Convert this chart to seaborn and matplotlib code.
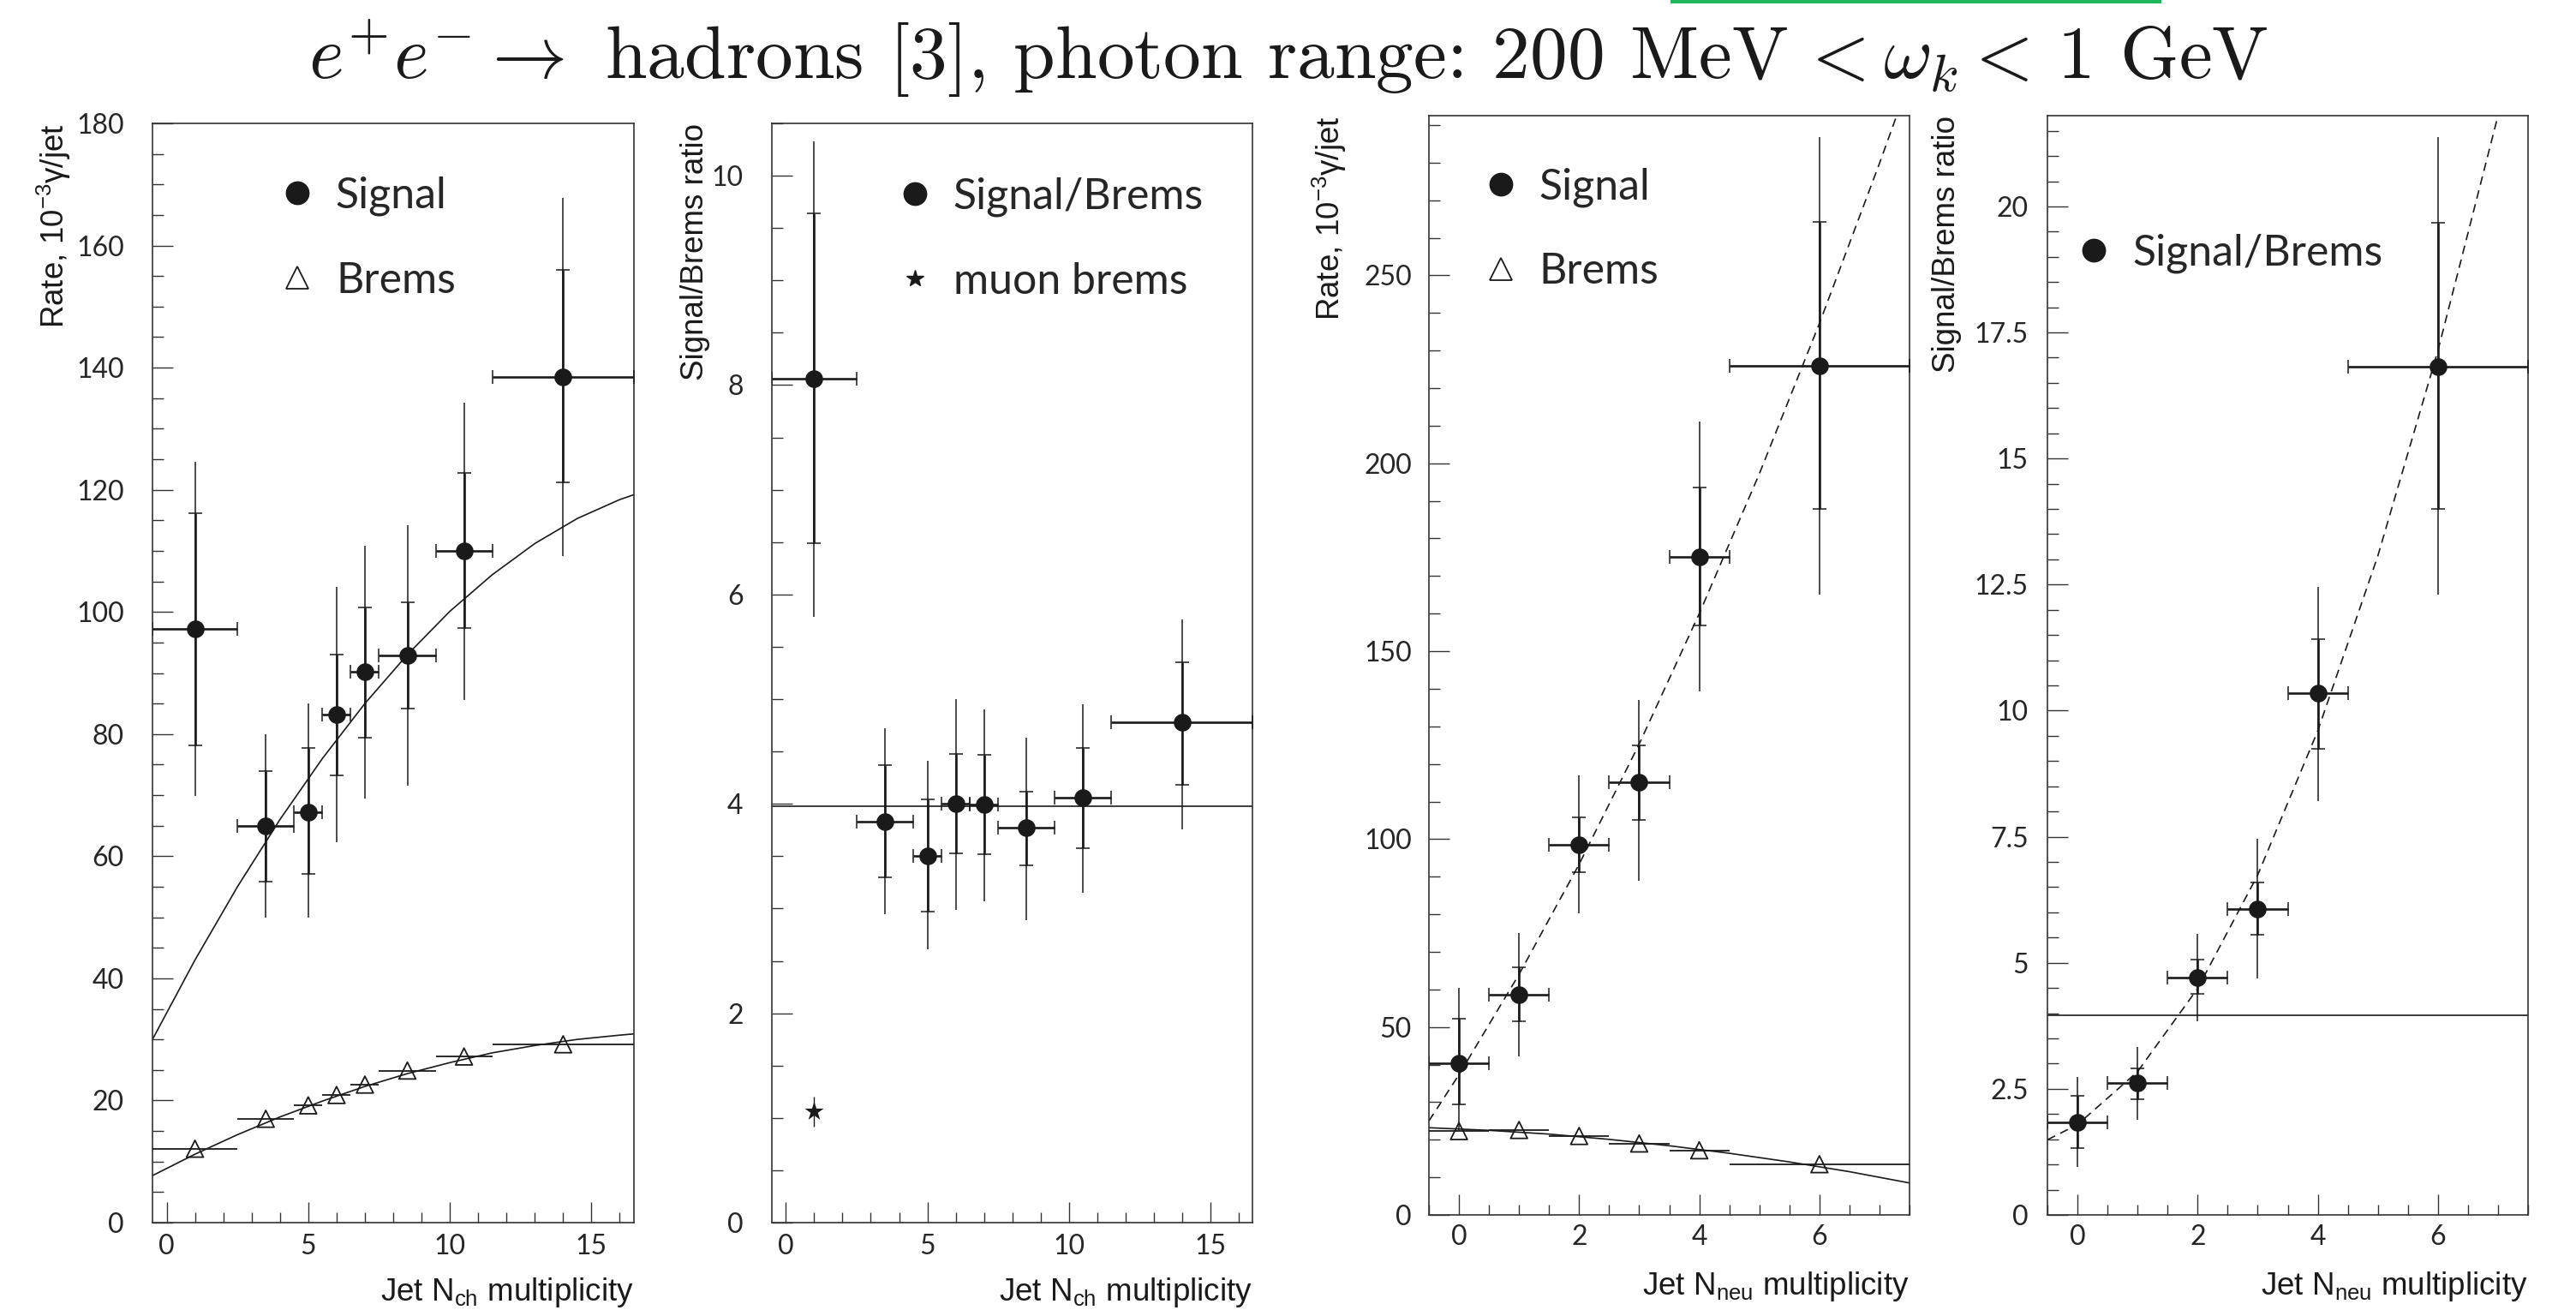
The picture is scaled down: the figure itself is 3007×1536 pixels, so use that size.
import matplotlib
matplotlib.use("Agg")
import matplotlib.pyplot as plt
import numpy as np
import pandas as pd
import seaborn as sns
from matplotlib.lines import Line2D
from matplotlib.patches import Rectangle
from matplotlib.ticker import MultipleLocator, FormatStrFormatter

# ---- data: charged multiplicity (panels 1, 2)
nch = [1, 3.5, 5, 6, 7, 8.5, 10.5, 14]
nch_xerr = [1.5, 1, 0.5, 0.5, 0.5, 1, 1, 2.5]

sig_nch = [97.2, 64.9, 67.2, 83.2, 90.2, 92.9, 110.0, 138.5]
sig_nch_in_hi = [116.1, 74.0, 77.7, 93.0, 100.8, 101.6, 122.8, 156.0]
sig_nch_in_lo = [78.2, 55.9, 57.1, 73.3, 79.4, 84.2, 97.4, 121.2]
sig_nch_out_hi = [124.6, 79.9, 85.0, 104.1, 110.9, 114.2, 134.3, 167.8]
sig_nch_out_lo = [69.9, 49.9, 50.0, 62.3, 69.4, 71.5, 85.6, 109.2]
brems_nch = [12.1, 17.0, 19.2, 20.9, 22.6, 24.9, 27.2, 29.2]

fit_nch_x = [-0.5, 1, 2.5, 4, 5.5, 7, 8.5, 10, 11.5, 13, 14.5, 16, 16.5]
fit_nch_sig = [30.0, 43.0, 55.0, 66.0, 76.0, 85.0, 93.0, 100.1, 106.1, 111.2, 115.3, 118.4, 119.2]
fit_nch_brems = [7.7, 11.2, 14.4, 17.3, 19.9, 22.3, 24.4, 26.2, 27.8, 29.0, 30.0, 30.7, 30.9]

ratio_nch = [8.06, 3.83, 3.50, 4.00, 3.99, 3.77, 4.06, 4.78]
ratio_nch_in_hi = [9.64, 4.37, 4.04, 4.48, 4.47, 4.12, 4.53, 5.35]
ratio_nch_in_lo = [6.49, 3.30, 2.97, 3.53, 3.52, 3.41, 3.58, 4.18]
ratio_nch_out_hi = [10.33, 4.72, 4.41, 5.00, 4.90, 4.63, 4.95, 5.76]
ratio_nch_out_lo = [5.79, 2.95, 2.61, 2.99, 3.07, 2.89, 3.15, 3.76]
ratio_nch_const = 3.98
muon_x = [1]
muon_y = [1.06]
muon_err = [0.14]

# ---- data: neutral multiplicity (panels 3, 4)
nneu = [0, 1, 2, 3, 4, 6]
nneu_xerr = [0.5, 0.5, 0.5, 0.5, 0.5, 1.5]

sig_neu = [40.4, 58.5, 98.4, 115.1, 175.2, 226.0]
sig_neu_in_hi = [52.3, 65.8, 105.7, 125.0, 193.5, 264.2]
sig_neu_in_lo = [29.4, 51.5, 91.1, 105.2, 156.8, 187.8]
sig_neu_out_hi = [60.4, 75.0, 117.0, 137.0, 211.2, 286.9]
sig_neu_out_lo = [22.5, 42.2, 80.2, 88.8, 139.3, 165.0]
brems_neu = [22.3, 22.6, 21.0, 19.0, 17.2, 13.5]

fit_neu_x = [-0.5, 0, 1, 2, 3, 4, 5, 6, 7, 7.5]
fit_neu_sig = [25.0, 37.3, 64.0, 93.3, 125.3, 160.0, 197.2, 237.2, 279.8, 302.0]
fit_neu_brems_x = [-0.5, 0.5, 1.5, 2.5, 3.5, 4.5, 5.5, 6.5, 7.5]
fit_neu_brems = [23.2, 22.5, 21.5, 20.1, 18.4, 16.4, 14.1, 11.5, 8.5]

ratio_neu = [1.84, 2.61, 4.71, 6.07, 10.35, 16.83]
ratio_neu_in_hi = [2.36, 2.91, 5.06, 6.60, 11.42, 19.68]
ratio_neu_in_lo = [1.33, 2.29, 4.38, 5.56, 9.25, 14.00]
ratio_neu_out_hi = [2.73, 3.33, 5.58, 7.46, 12.46, 21.37]
ratio_neu_out_lo = [0.95, 1.88, 3.84, 4.69, 8.20, 12.30]
ratio_neu_const = 3.96
fit_ratio_neu = [1.49, 1.79, 2.84, 4.49, 6.74, 9.6, 13.07, 17.14, 21.8, 24.4]

# ---- style
sns.set_theme(style="ticks")
plt.rcParams["font.family"] = ["Liberation Sans", "DejaVu Sans"]
plt.rcParams["mathtext.fontset"] = "custom"
plt.rcParams["mathtext.rm"] = "Liberation Sans"
plt.rcParams["mathtext.it"] = "Liberation Sans:italic"
plt.rcParams["mathtext.sf"] = "Liberation Sans"

TICK_FONT = dict(family=["Lato", "DejaVu Sans"], weight="normal", size=23)
LEG_FONT = dict(family=["Lato", "DejaVu Sans"], weight="normal", size=36)
LABEL_SIZE = 26.5
SPINE = "#333333"
TXT = "#262626"

fig = plt.figure(figsize=(30.07, 15.36), dpi=100)
W, H = 3007, 1536


def make_ax(left, top, right, bottom):
    return fig.add_axes([left / W, 1 - bottom / H, (right - left) / W, (bottom - top) / H])


ax1 = make_ax(178, 144, 740, 1427)
ax2 = make_ax(901, 144, 1462, 1427)
ax3 = make_ax(1668, 135, 2229, 1418)
ax4 = make_ax(2390, 135, 2951, 1418)


def signal_points(ax, x, y, xerr, in_lo, in_hi, out_lo, out_hi):
    y = np.asarray(y)
    ax.errorbar(x, y, yerr=[y - np.asarray(out_lo), np.asarray(out_hi) - y], fmt="none",
                ecolor="k", elinewidth=1.1, capsize=0, zorder=3)
    ax.errorbar(x, y, yerr=[y - np.asarray(in_lo), np.asarray(in_hi) - y], fmt="none",
                ecolor="k", elinewidth=1.9, capsize=5.5, capthick=1.1, zorder=3)
    ax.errorbar(x, y, xerr=xerr, fmt="none", ecolor="k", elinewidth=1.9,
                capsize=6, capthick=1.1, zorder=3)
    sns.scatterplot(x=x, y=y, ax=ax, marker="o", s=220, color="k", edgecolor="k",
                    linewidth=0, zorder=5, legend=False)


def brems_points(ax, x, y, xerr):
    ax.errorbar(x, y, xerr=xerr, fmt="none", ecolor="k", elinewidth=1.3, capsize=0, zorder=3)
    sns.scatterplot(x=x, y=y, ax=ax, marker="^", s=200, facecolor="none", edgecolor="k",
                    linewidth=1.3, zorder=5, legend=False)


def fit_line(ax, x, y, dashed=False):
    ls = (0, (6, 4)) if dashed else "-"
    sns.lineplot(x=x, y=y, ax=ax, color="k", lw=1.2, linestyle=ls, sort=False,
                 estimator=None, zorder=2)


def style_axis(ax, xlim, ylim, xmaj, xmin, ymaj, ymin, ypad, xpad, fmt="%g"):
    ax.set_xlim(*xlim)
    ax.set_ylim(*ylim)
    ax.xaxis.set_major_locator(MultipleLocator(xmaj))
    ax.xaxis.set_minor_locator(MultipleLocator(xmin))
    ax.yaxis.set_major_locator(MultipleLocator(ymaj))
    ax.yaxis.set_minor_locator(MultipleLocator(ymin))
    ax.yaxis.set_major_formatter(FormatStrFormatter(fmt))
    ax.xaxis.set_major_formatter(FormatStrFormatter("%g"))
    ax.tick_params(which="both", direction="in", top=False, right=False,
                   color=SPINE, width=1.0, labelcolor=TXT)
    ax.tick_params(which="major", length=17)
    ax.tick_params(which="minor", length=9)
    ax.tick_params(axis="y", which="major", pad=ypad)
    ax.tick_params(axis="x", which="major", pad=xpad)
    for lab in ax.get_xticklabels() + ax.get_yticklabels():
        lab.set_fontfamily(TICK_FONT["family"])
        lab.set_fontweight(TICK_FONT["weight"])
        lab.set_fontsize(TICK_FONT["size"])
    for sp in ax.spines.values():
        sp.set_color(SPINE)
        sp.set_linewidth(1.2)
    ax.grid(False)


def labels(ax, xlab, ylab, ylx, xly):
    ax.set_xlabel(xlab, fontsize=LABEL_SIZE, loc="right", color="k")
    ax.set_ylabel(ylab, fontsize=LABEL_SIZE, loc="top", color="k")
    ax.yaxis.set_label_coords(ylx, 1.0)
    ax.xaxis.set_label_coords(1.0, xly)


def legend(ax, handles, names, x, y, spacing=1.05):
    leg = ax.legend(handles, names, loc="upper left", bbox_to_anchor=(x, y), frameon=False,
                    borderaxespad=0, borderpad=0, handlelength=0.9, handletextpad=0.45,
                    labelspacing=spacing, prop=LEG_FONT)
    for t in leg.get_texts():
        t.set_color(TXT)


dot = Line2D([], [], marker="o", ls="none", color="k", markersize=19)
tri = Line2D([], [], marker="^", ls="none", mfc="none", mec="k", mew=1.3, markersize=19)
star = Line2D([], [], marker="*", ls="none", color="k", markersize=15)

# ---- panel 1
fit_line(ax1, fit_nch_x, fit_nch_sig)
fit_line(ax1, fit_nch_x, fit_nch_brems)
brems_points(ax1, nch, brems_nch, nch_xerr)
signal_points(ax1, nch, sig_nch, nch_xerr, sig_nch_in_lo, sig_nch_in_hi,
              sig_nch_out_lo, sig_nch_out_hi)
style_axis(ax1, (-0.5, 16.5), (0, 180), 5, 1, 20, 5, ypad=24, xpad=9)
labels(ax1, r"Jet N$_{\mathrm{ch}}$ multiplicity", r"Rate, 10$^{-3}$γ/jet", -0.165, -0.048)
legend(ax1, [dot, tri], ["Signal", "Brems"], 0.2605, 0.952)

# ---- panel 2
ax2.axhline(ratio_nch_const, color="k", lw=1.2, zorder=2)
signal_points(ax2, nch, ratio_nch, nch_xerr, ratio_nch_in_lo, ratio_nch_in_hi,
              ratio_nch_out_lo, ratio_nch_out_hi)
ax2.errorbar(muon_x, muon_y, yerr=muon_err, fmt="none", ecolor="k", elinewidth=1.0, zorder=3)
sns.scatterplot(x=muon_x, y=muon_y, ax=ax2, marker="*", s=280, color="k", linewidth=0,
                zorder=5, legend=False)
style_axis(ax2, (-0.5, 16.5), (0, 10.5), 5, 1, 2, 0.5, ypad=24, xpad=9)
labels(ax2, r"Jet N$_{\mathrm{ch}}$ multiplicity", "Signal/Brems ratio", -0.128, -0.048)
legend(ax2, [dot, star], ["Signal/Brems", "muon brems"], 0.2574, 0.951)

# ---- panel 3
fit_line(ax3, fit_neu_x, fit_neu_sig, dashed=True)
fit_line(ax3, fit_neu_brems_x, fit_neu_brems)
brems_points(ax3, nneu, brems_neu, nneu_xerr)
signal_points(ax3, nneu, sig_neu, nneu_xerr, sig_neu_in_lo, sig_neu_in_hi,
              sig_neu_out_lo, sig_neu_out_hi)
style_axis(ax3, (-0.5, 7.5), (0, 292.5), 2, 0.5, 50, 10, ypad=14.5, xpad=8)
labels(ax3, r"Jet N$_{\mathrm{neu}}$ multiplicity", r"Rate, 10$^{-3}$γ/jet", -0.168, -0.05)
legend(ax3, [dot, tri], ["Signal", "Brems"], 0.1094, 0.953)

# ---- panel 4
ax4.axhline(ratio_neu_const, color="k", lw=1.2, zorder=2)
fit_line(ax4, fit_neu_x, fit_ratio_neu, dashed=True)
signal_points(ax4, nneu, ratio_neu, nneu_xerr, ratio_neu_in_lo, ratio_neu_in_hi,
              ratio_neu_out_lo, ratio_neu_out_hi)
style_axis(ax4, (-0.5, 7.5), (0, 21.8), 2, 0.5, 2.5, 0.5, ypad=16, xpad=8)
labels(ax4, r"Jet N$_{\mathrm{neu}}$ multiplicity", "Signal/Brems ratio", -0.178, -0.05)
legend(ax4, [dot], ["Signal/Brems"], 0.057, 0.893)

# ---- title and the green mark at the top edge
fig.text(0.5, 1 - 92 / H,
         r"$e^{+}e^{-}\rightarrow$ hadrons [3], photon range: 200 MeV$\,<\omega_k<\,$1 GeV",
         ha="center", va="baseline", fontsize=63, family="cmr10", math_fontfamily="cm",
         color="k")
fig.add_artist(Rectangle((1950 / W, 1 - 4 / H), 573 / W, 4 / H, transform=fig.transFigure,
                         facecolor="#1fb65c", edgecolor="none"))

fig.savefig("out.png", dpi=100)
